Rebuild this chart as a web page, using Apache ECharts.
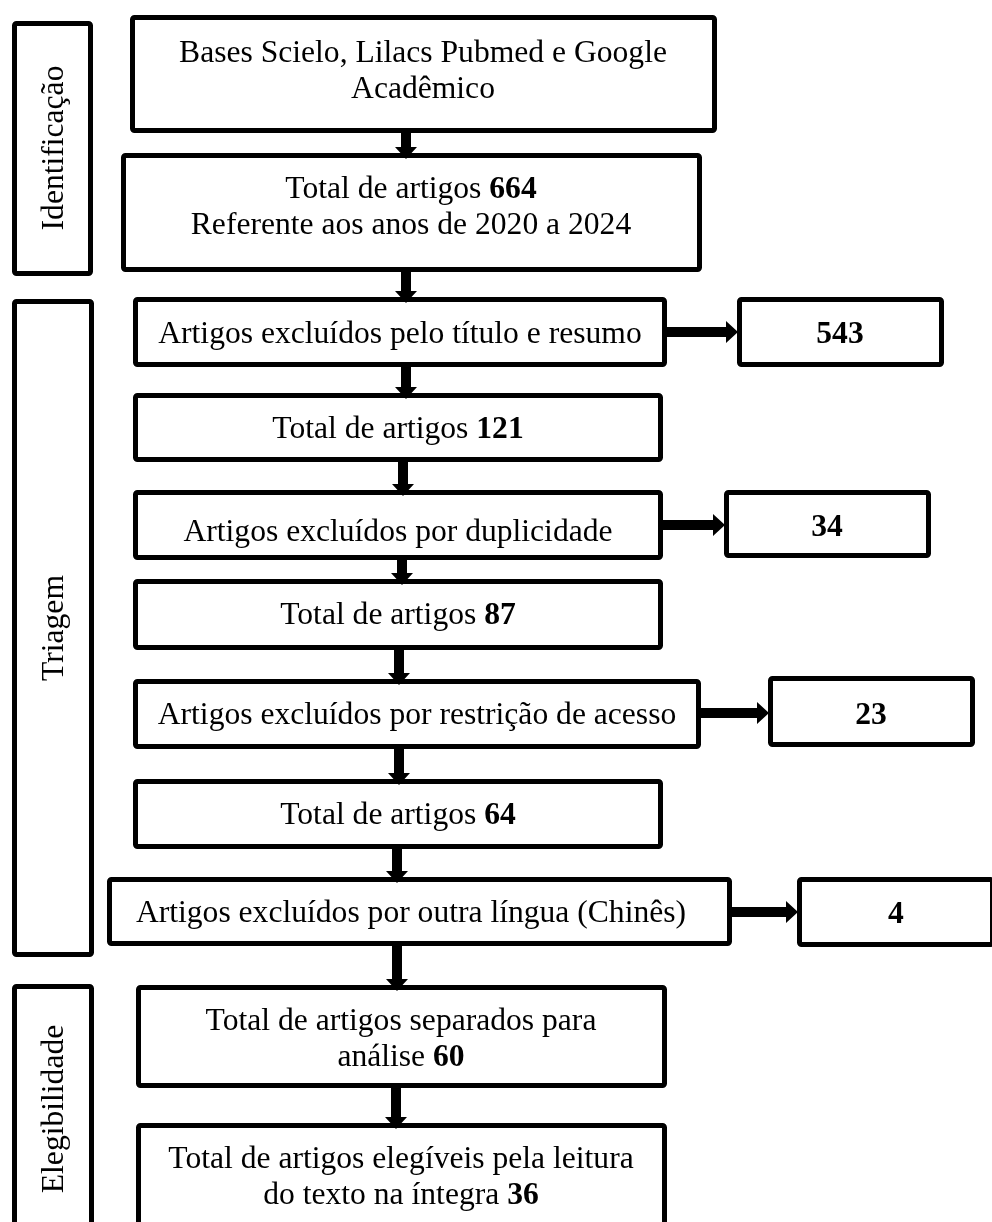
<!DOCTYPE html>
<html>
<head>
<meta charset="utf-8">
<title>Fluxograma</title>
<script src="https://cdn.jsdelivr.net/npm/echarts@6/dist/echarts.min.js"></script>
<style>
html, body { margin: 0; padding: 0; background: #fff; }
#main { width: 992px; height: 1222px; }
</style>
</head>
<body>
<div id="main"></div>
<script>
// dados
var stages = ['Identificação', 'Triagem', 'Elegibilidade'];
var totals = [664, 121, 87, 64, 60, 36];
var excluded = [543, 34, 23, 4];
var excludedReasons = [
	'Artigos excluídos pelo título e resumo',
	'Artigos excluídos por duplicidade',
	'Artigos excluídos por restrição de acesso',
	'Artigos excluídos por outra língua (Chinês)'
];
var sourceText = 'Bases Scielo, Lilacs Pubmed e Google\nAcadêmico';
var yearsText = 'Referente aos anos de 2020 a 2024';

// textos das caixas, na ordem do fluxo
var flowTexts = [
	sourceText,
	'Total de artigos {b|' + totals[0] + '}\n' + yearsText,
	excludedReasons[0],
	'Total de artigos {b|' + totals[1] + '}',
	excludedReasons[1],
	'Total de artigos {b|' + totals[2] + '}',
	excludedReasons[2],
	'Total de artigos {b|' + totals[3] + '}',
	excludedReasons[3],
	'Total de artigos separados para\nanálise {b|' + totals[4] + '}',
	'Total de artigos elegíveis pela leitura\ndo texto na íntegra {b|' + totals[5] + '}'
];
var sideFrom = [2, 4, 6, 8];   // caixa do fluxo que leva a cada excluído

// layout: [x1, y1, x2, y2, textoX, textoY]
var flowBoxes = [
	[130, 15, 717, 133, 423, 72],
	[121, 153, 702, 272, 411, 208],
	[133, 297, 667, 367, 400, 335],
	[133, 393, 663, 462, 398, 430],
	[133, 490, 663, 560, 398, 533],
	[133, 579, 663, 650, 398, 616],
	[133, 679, 701, 749, 417, 716],
	[133, 779, 663, 849, 398, 816],
	[107, 877, 732, 946, 411, 914],
	[136, 985, 667, 1088, 401, 1040],
	[136, 1123, 667, 1240, 401, 1178]
];
var sideBoxes = [
	[737, 297, 944, 367, 840, 335],
	[724, 490, 931, 558, 827, 528],
	[768, 676, 975, 747, 871, 716],
	[797, 877, 995, 947, 896, 915]
];
var stageBoxes = [
	[12, 21, 93, 276, 55, 148],
	[12, 299, 94, 957, 55, 628],
	[12, 984, 94, 1240, 55, 1109]
];
var downArrowX = [406, 406, 406, 403, 402, 399, 399, 397, 397, 396];

var FONT = 'Liberation Serif';
var boxItems = [];
var arrowItems = [];

flowBoxes.forEach(function(b, i){
	boxItems.push({value: b, text: flowTexts[i], rotate: false});
});
sideBoxes.forEach(function(b, i){
	boxItems.push({value: b, text: '{b|' + excluded[i] + '}', rotate: false});
});
stageBoxes.forEach(function(b, i){
	boxItems.push({value: b, text: stages[i], rotate: true});
});

for (var i = 0; i < flowBoxes.length - 1; i++) {
	var x = downArrowX[i];
	arrowItems.push([x, flowBoxes[i][3], x, flowBoxes[i + 1][1] + 6]);
}
sideBoxes.forEach(function(b, i){
	var from = flowBoxes[sideFrom[i]];
	arrowItems.push([from[2], b[5] - 3, b[0] + 1, b[5] - 3]);
});

function renderBox(params, api){
	var item = boxItems[params.dataIndex];
	var p1 = api.coord([api.value(0), api.value(1)]);
	var p2 = api.coord([api.value(2), api.value(3)]);
	var t = api.coord([api.value(4), api.value(5)]);
	var lw = 5;
	return {
		type: 'group',
		children: [{
			type: 'rect',
			shape: {x: p1[0] + lw / 2, y: p1[1] + lw / 2, width: p2[0] - p1[0] - lw, height: p2[1] - p1[1] - lw, r: 2},
			style: {fill: '#fff', stroke: '#000', lineWidth: lw}
		}, {
			type: 'text',
			x: t[0],
			y: t[1],
			rotation: item.rotate ? Math.PI / 2 : 0,
			style: {
				x: 0, y: 0,
				text: item.text,
				align: 'center',
				verticalAlign: 'middle',
				fontFamily: FONT,
				fontSize: 31.6,
				lineHeight: 36,
				fill: '#000',
				rich: {
					b: {fontFamily: FONT, fontSize: 31.6, fontWeight: 'bold', lineHeight: 36, fill: '#000'}
				}
			}
		}]
	};
}

function renderArrow(params, api){
	var a = api.coord([api.value(0), api.value(1)]);
	var b = api.coord([api.value(2), api.value(3)]);
	var dx = b[0] - a[0], dy = b[1] - a[1];
	var len = Math.sqrt(dx * dx + dy * dy);
	var ux = dx / len, uy = dy / len;
	var nx = -uy, ny = ux;
	var sw = 10 / 2, hw = 22 / 2, hl = 12;
	var hx = b[0] - ux * hl, hy = b[1] - uy * hl;
	var pts = [
		[a[0] + nx * sw, a[1] + ny * sw],
		[hx + nx * sw, hy + ny * sw],
		[hx + nx * hw, hy + ny * hw],
		[b[0], b[1]],
		[hx - nx * hw, hy - ny * hw],
		[hx - nx * sw, hy - ny * sw],
		[a[0] - nx * sw, a[1] - ny * sw]
	];
	return {type: 'polygon', shape: {points: pts}, style: {fill: '#000'}};
}

var chart = echarts.init(document.getElementById('main'));
chart.setOption({
	animation: false,
	backgroundColor: '#fff',
	grid: {left: 0, right: 0, top: 0, bottom: 0},
	xAxis: {type: 'value', min: 0, max: 992, show: false},
	yAxis: {type: 'value', min: 0, max: 1222, inverse: true, show: false},
	series: [{
		type: 'custom',
		name: 'caixas',
		silent: true,
		clip: false,
		renderItem: renderBox,
		data: boxItems.map(function(d){ return d.value; })
	}, {
		type: 'custom',
		name: 'setas',
		silent: true,
		clip: false,
		z: 3,
		renderItem: renderArrow,
		data: arrowItems
	}]
});
</script>
</body>
</html>
